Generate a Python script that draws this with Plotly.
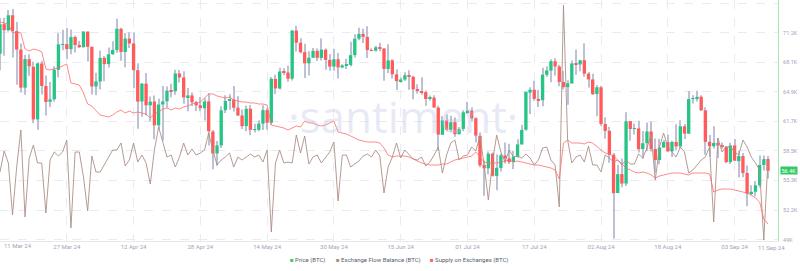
import pandas as pd
import plotly.graph_objects as go

START = "2024-03-11"
N_DAYS = 185

# Daily BTC candles (USD), 11 Mar 2024 .. 11 Sep 2024
OPEN = [
    68955, 72125, 71482, 73079, 71387, 69392, 65316, 68371, 67556, 61912, 67911, 65489, 63802, 64070, 67234, 69931, 69992, 69452, 70744, 69893, 69648,
    71333, 69705, 65447, 65976, 68515, 67840, 68898, 69363, 71632, 69140, 70575, 70061, 67189, 63836, 65739, 63419, 63831, 61275, 63510, 63851,
    64992, 64935, 66839, 66408, 64275, 64486, 63750, 63423, 63106, 63839,
    60609, 58253, 59123, 62891, 63892, 64038, 63163, 62333, 61192, 63055, 60793, 60794, 61452, 62900, 61554, 66256, 65231, 67066, 66937, 66278,
    71443, 70135, 69121, 67928, 68527, 69264, 68512, 69392, 68296, 67576, 68364,
    67489, 67706, 67753, 68805, 70568, 71082, 70759, 69324, 69298, 69644, 69512, 67321, 68243, 66747, 66006, 66190, 66636, 66490, 65146, 64960,
    64837, 64113, 64249, 63173, 60266, 61789, 60809, 61613, 60319, 60889,
    62673, 62845, 62035, 60148, 57022, 56659, 58239, 55850, 56705, 58034, 57729, 57340, 57908, 59226, 60815, 64784, 65092, 64104, 63972, 66699,
    67150, 68155, 67585, 65928, 65375, 65772, 67911, 67809, 68259, 66819, 66202,
    64626, 65353, 61414, 60677, 58110, 54010, 56040, 55031, 61729, 60882, 60943, 58727, 59357, 60612, 58739, 57560, 58894, 59469, 58481, 59493,
    59015, 61169, 60381, 64103, 64176, 64342, 62880, 59505, 59028, 59388, 59117,
    58969, 57326, 59114, 57430, 57971, 56160, 53950, 54147, 54840, 57020, 57650,
]
HIGH = [
    72800, 72825, 73637, 73750, 72357, 70046, 68845, 68897, 68106, 68029, 68199, 66623, 65923, 67622, 71162, 71535, 71727, 71546, 70913, 70355, 71377,
    71342, 69708, 66904, 69292, 68725, 69629, 70284, 72715, 71742, 71172, 71256, 71222, 67931, 65824, 66878, 64355, 64486, 64125, 65481, 65442,
    65723, 67233, 67199, 67075, 65275, 64792, 63923, 64321, 64174, 64703,
    60780, 59602, 63320, 64494, 64610, 65495, 64390, 62986, 63404, 63446, 61451, 61818, 63422, 63099, 66454, 66712, 67459, 67387, 67694, 71483,
    71946, 70623, 70041, 69220, 69579, 69506, 70597, 69514, 68897, 69500, 69041,
    67839, 68410, 70230, 71047, 71735, 71625, 71907, 69533, 69817, 70146, 69563, 69977, 68375, 67294, 66402, 66964, 67188, 66556, 65695, 66438,
    65007, 64476, 64491, 63369, 62258, 62434, 62293, 62126, 61097, 62892,
    63777, 63203, 62148, 60498, 57497, 58472, 58371, 58131, 58239, 59424, 59299, 58533, 59787, 61329, 64870, 65354, 66067, 65104, 67442, 67612,
    68366, 68480, 67787, 67102, 66112, 68232, 69399, 68319, 70079, 66987, 66810,
    65593, 65523, 62149, 61118, 58305, 57040, 57726, 62673, 61743, 61464, 61778, 60672, 61572, 61687, 59849, 59847, 59707, 60262, 59612, 61396,
    61820, 61408, 64947, 64513, 64996, 64489, 63211, 60236, 61166, 59896, 59432,
    59062, 59403, 59810, 58511, 58300, 56976, 54838, 55300, 58041, 58029, 57991,
]
LOW = [
    67194, 68728, 71335, 68563, 65631, 64801, 64545, 66594, 61536, 60807, 64580, 62331, 63254, 63826, 66414, 69335, 68381, 68895, 69076, 69601, 69624,
    68110, 64586, 64494, 65113, 66011, 67491, 68851, 69064, 68213, 67518, 69571, 65254, 60919, 62205, 62333, 61716, 59768, 60833, 59651, 63172,
    64277, 64548, 65865, 63590, 62783, 63322, 62824, 62794, 61795, 59120,
    56555, 56937, 58848, 62599, 62955, 62746, 62285, 60877, 60648, 60208, 60492, 60632, 60769, 60799, 61330, 64613, 65119, 66663, 65937, 66086,
    69191, 68977, 66356, 66622, 68515, 68184, 68232, 67228, 67124, 67118, 66311,
    67386, 67316, 67589, 68564, 70390, 70119, 68507, 69211, 69160, 69232, 66051, 66902, 66303, 65056, 65871, 66044, 65094, 64066, 64693, 64547,
    63378, 63929, 63180, 58601, 60239, 60657, 60586, 60043, 60300, 60632,
    62495, 61752, 59419, 56777, 53717, 56038, 55793, 54321, 56317, 57171, 57120, 56590, 57796, 59226, 60705, 62487, 63912, 63246, 63330, 66460,
    65891, 66611, 65456, 65111, 63474, 65725, 66705, 67066, 66483, 65323, 64532,
    62248, 61198, 59836, 57265, 49121, 53983, 54620, 54766, 59615, 60287, 58348, 57690, 58506, 58472, 56206, 57110, 58856, 58446, 57864, 58610,
    58784, 59815, 60372, 63619, 63834, 62850, 58116, 57891, 58787, 57768, 58768,
    57217, 57136, 57425, 55673, 55712, 52598, 53740, 53653, 54598, 56419, 55567,
]
CLOSE = [
    72123, 71482, 73084, 71397, 69403, 65316, 68391, 67610, 61913, 67913, 65491, 63779, 64062, 67234, 69958, 69987, 69455, 70744, 69892, 69645, 71333,
    69702, 65446, 65980, 68508, 67837, 68896, 69362, 71631, 69139, 70587, 70060, 67195, 63822, 65738, 63427, 63811, 61276, 63512, 63843, 64994,
    64926, 66837, 66407, 64276, 64482, 63755, 63419, 63113, 63841, 60636,
    58254, 59123, 62889, 63891, 64031, 63161, 62335, 61187, 63049, 60793, 60804, 61459, 62901, 61553, 66267, 65232, 67051, 66940, 66278, 71448,
    70136, 69122, 67929, 68526, 69265, 68518, 69394, 68297, 67578, 68365, 67491,
    67706, 67752, 68804, 70568, 71082, 70757, 69343, 69306, 69648, 69512, 67332, 68241, 66756, 66012, 66191, 66639, 66490, 65140, 64961, 64828,
    64096, 64253, 63181, 60277, 61804, 60811, 61605, 60320, 60887, 62678,
    62851, 62029, 60173, 56977, 56663, 58231, 55857, 56714, 58052, 57725, 57339, 57899, 59231, 60788, 64870, 65097, 64118, 63975, 66710, 67164,
    68154, 67586, 65928, 65372, 65777, 67913, 67813, 68255, 66819, 66201, 64620,
    65357, 61416, 60680, 58116, 53991, 56035, 55027, 61710, 60881, 60946, 58715, 59354, 60610, 58737, 57561, 58895, 59478, 58483, 59493, 59012,
    61175, 60381, 64094, 64178, 64333, 62880, 59504, 59027, 59388, 59119, 58970,
    57326, 59113, 57485, 57972, 56160, 53949, 54140, 54841, 57019, 57648, 56400,
]
# Exchange Flow Balance (BTC), daily
FLOW = [
    -2200, -100, -1300, -6500, -1700, 2000, -6700, -800, 500, -1300, -1300, -6300, -1000, -200, -600, -200, 1000, -7800, -200, -200,
    -2700, -6100, -600, -2200, -2200, -1500, -700, 0, 0, 700, -1600, -1000, 700, -1200, -500, -1300, -3400, 0, 2300, 700,
    -700, -500, -1700, -700, 700, -500, 100, -500, -300, 0, 1700, 0, -1500, -1000, -700, -300, -1700, -700, -1000, -700,
    -400, -700, -500, -1200, 0, -8200, -1300, 0, -1300, -1200, -1300, 1500, -300, 1400, -1400, -700, -500, -1300, -800, -200,
    800, -5100, -500, -500, -1700, -1400, -1100, -600, -400, -700, 0, -600, -4300, -1700, -700, 700, -800, 0, -400, -900,
    -1000, -700, -1600, -1200, -500, 300, -2300, -500, 700, 1000, -1000, -600, -500, 300, -100, 1400, -1500, -5000, -1200, 1500,
    -200, -1200, 0, -700, -600, -800, -400, -800, -1500, -1000, 200, 300, -1000, -1500, -5700, 14500, 1000, -1300, -700, -500,
    -1200, 400, -1500, -1500, -2200, -500, -800, -1200, -1000, -1500, -1000, -1400, -1400, -400, -800, 200, 1500, -3000, 300, 1700,
    300, -200, -700, 300, -200, -2300, -2000, -1500, -1000, -700, 300, -7200, 1200, -200, 300, 300, -200, -500, 1000, 300,
    -700, -1300, -2000, -9000, -1000,
]
# Supply on Exchanges (BTC), daily
SUPPLY = [
    1989000, 1988500, 1988000, 1983500, 1984000, 1983500, 1975500, 1974500, 1975500, 1975000, 1974000, 1965500, 1965000, 1965500, 1966000,
    1967000, 1968000, 1958500, 1958000, 1957500, 1953500, 1948000, 1947000, 1945000, 1942500, 1942000, 1941500, 1942500, 1944000, 1945000,
    1943500, 1944500, 1943500, 1944000, 1943500, 1943000, 1941000, 1943000, 1944000, 1945500, 1946000, 1945000, 1946000, 1945500, 1946500,
    1947000, 1948000, 1948500, 1949000, 1951000, 1953000, 1953000, 1952000, 1951500, 1951000, 1951500, 1950000, 1949500, 1949000, 1949000,
    1948500, 1948500, 1948000, 1948000, 1947500, 1937500, 1937000, 1936500, 1936000, 1935000, 1936000, 1937000, 1936500, 1939500, 1938500,
    1938500, 1937500, 1937000, 1937500, 1938500, 1939500, 1934000, 1933500, 1933000, 1932000, 1931000, 1930000, 1929500, 1929000, 1929000,
    1929000, 1928500, 1926000, 1922500, 1921500, 1922000, 1922000, 1922000, 1921500, 1920500, 1919500, 1918500, 1918000, 1917500, 1917500,
    1917500, 1918000, 1918000, 1919000, 1920000, 1920500, 1921000, 1921500, 1922000, 1924000, 1921500, 1919000, 1918500, 1918500, 1918500,
    1919000, 1919500, 1920000, 1919000, 1919500, 1919000, 1918500, 1918000, 1917500, 1917500, 1917000, 1916500, 1916000, 1915000, 1910500,
    1928500, 1930000, 1928500, 1928500, 1928500, 1928000, 1929000, 1928500, 1926500, 1925000, 1923500, 1923000, 1922000, 1920000, 1918500,
    1916000, 1915000, 1914000, 1913500, 1914000, 1913500, 1912500, 1911000, 1912000, 1912500, 1913000, 1913500, 1913500, 1913500, 1913000,
    1912500, 1913500, 1913500, 1913500, 1913500, 1913000, 1904000, 1905000, 1905500, 1905500, 1905500, 1905000, 1904500, 1904000, 1903500,
    1902500, 1901000, 1899000, 1890500, 1888000,
]

PRICE_TICKS = [74400, 71225, 68050, 64875, 61700, 58525, 55350, 52175, 49000]
PRICE_TICK_TEXT = ["74.4K", "71.2K", "68.1K", "64.9K", "61.7K", "58.5K", "55.3K", "52.2K", "49K"]
DATE_TICKS = ["2024-03-27", "2024-04-12", "2024-04-28", "2024-05-14", "2024-05-30", "2024-06-15",
              "2024-07-01", "2024-07-17", "2024-08-02", "2024-08-18", "2024-09-03"]
DATE_TICK_TEXT = ["27 Mar 24", "12 Apr 24", "28 Apr 24", "14 May 24", "30 May 24", "15 Jun 24",
                  "01 Jul 24", "17 Jul 24", "02 Aug 24", "18 Aug 24", "03 Sep 24"]
FIRST_LABEL = "11 Mar 24"
LAST_LABEL = "11 Sep 24"
LAST_PRICE_LABEL = "56.4K"
LEGEND = ["Price (BTC)", "Exchange Flow Balance (BTC)", "Supply on Exchanges (BTC)"]

GREEN = "#26c485"
RED = "#ff5b5b"
WICK = "#bcc1d6"
BROWN = "#ad9086"
SUPPLY_RED = "#ff6b6b"
LEG_GREEN = "#2fcc5d"
TICK_COLOR = "#9ea5b8"
GRID = "#e9ebf1"
FONT = "Roboto, Open Sans, sans-serif"

dates = pd.date_range(START, periods=N_DAYS, freq="D")
DAY_MS = 86400000

body_base = [min(o, c) for o, c in zip(OPEN, CLOSE)]
body_len = [max(abs(c - o), 45) for o, c in zip(OPEN, CLOSE)]
body_col = [GREEN if c >= o else RED for o, c in zip(OPEN, CLOSE)]
wick_len = [h - l for h, l in zip(HIGH, LOW)]

fig = go.Figure()
fig.add_trace(go.Bar(x=dates, y=wick_len, base=LOW, width=0.24 * DAY_MS,
                     marker=dict(color=WICK, line=dict(width=0)),
                     showlegend=False, hoverinfo="skip"))
fig.add_trace(go.Bar(x=dates, y=body_len, base=body_base, width=0.8 * DAY_MS,
                     marker=dict(color=body_col, line=dict(width=0)),
                     name=LEGEND[0], showlegend=False))
fig.add_trace(go.Scatter(x=dates, y=FLOW, yaxis="y2", mode="lines",
                         line=dict(color=BROWN, width=0.9), name=LEGEND[1], showlegend=False))
fig.add_trace(go.Scatter(x=dates, y=SUPPLY, yaxis="y3", mode="lines",
                         line=dict(color=SUPPLY_RED, width=0.8), name=LEGEND[2], showlegend=False))

x_end = dates[0] + pd.Timedelta(days=186.4)

fig.update_layout(
    width=800, height=271,
    margin=dict(l=0, r=22, t=0, b=30),
    paper_bgcolor="white", plot_bgcolor="white",
    barmode="overlay",
    showlegend=False,
    font=dict(family=FONT, size=6, color=TICK_COLOR),
    xaxis=dict(type="date", range=[dates[0], x_end],
               tickvals=DATE_TICKS, ticktext=DATE_TICK_TEXT,
               tickfont=dict(family=FONT, size=6, color=TICK_COLOR),
               showgrid=True, gridcolor=GRID, griddash="dash", gridwidth=1,
               showline=True, linecolor="#e6e8ee", linewidth=1,
               ticks="", zeroline=False, automargin=False),
    yaxis=dict(side="right", range=[48863, 74722],
               tickvals=PRICE_TICKS, ticktext=PRICE_TICK_TEXT,
               tickfont=dict(family=FONT, size=5.5, color=TICK_COLOR),
               showgrid=True, gridcolor=GRID, griddash="dash", gridwidth=1,
               showline=True, linecolor="#a6e8ad", linewidth=1,
               ticks="", ticklabelstandoff=3, zeroline=False, automargin=False),
    yaxis2=dict(overlaying="y", range=[-9100, 15000], visible=False),
    yaxis3=dict(overlaying="y", range=[1879500, 2000000], visible=False),
)

annotations = [
    dict(text="·santiment·", xref="paper", yref="paper", x=0.518, y=0.52,
         xanchor="center", yanchor="middle", showarrow=False,
         font=dict(family="Open Sans, sans-serif", size=44, color="rgba(186,194,226,0.36)")),
    dict(text=FIRST_LABEL, xref="paper", yref="paper", x=2 / 778, y=-0.018,
         xanchor="left", yanchor="middle", showarrow=False,
         font=dict(family=FONT, size=6, color=TICK_COLOR)),
    dict(text=LAST_LABEL, xref="paper", yref="paper", x=1.0 + 9 / 778, y=-0.026,
         xanchor="right", yanchor="middle", showarrow=False,
         font=dict(family=FONT, size=6, color=TICK_COLOR)),
    dict(text=LAST_PRICE_LABEL, xref="paper", yref="y", x=1.0, y=CLOSE[-1],
         xanchor="left", yanchor="middle", xshift=2, showarrow=False,
         bgcolor="#33c963", borderpad=0.5,
         font=dict(family=FONT, size=5.5, color="white")),
]
leg_colors = [LEG_GREEN, "#a88a7e", RED]
leg_x = [288, 334, 428]
for txt, col, lx in zip(LEGEND, leg_colors, leg_x):
    annotations.append(dict(
        text=f'<span style="color:{col}">■</span> {txt}',
        xref="paper", yref="paper", x=lx / 778, y=-19 / 241,
        xanchor="left", yanchor="middle", showarrow=False,
        font=dict(family=FONT, size=6, color="#555b6e")))
fig.update_layout(annotations=annotations)

fig.write_html("out.html")
